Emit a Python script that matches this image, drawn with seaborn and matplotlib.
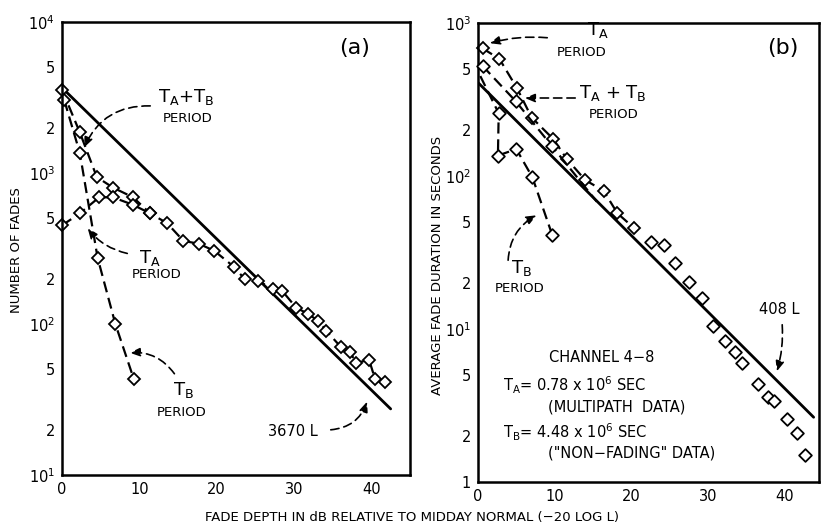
import matplotlib
matplotlib.use("Agg")
import matplotlib.pyplot as plt
import seaborn as sns
import pandas as pd
from matplotlib.ticker import FixedLocator, FixedFormatter, NullLocator

# ---------------- data ----------------
# panel (a): number of fades vs fade depth (dB)
a_sum_x = [0, 2.3, 4.5, 6.6, 9.2, 11.4, 13.6, 15.7, 17.7, 19.7, 22.2, 23.6, 25.3,
           27.3, 28.5, 30.3, 31.8, 33.1, 34.2, 36.1, 37.3, 38.0, 39.7, 40.5, 41.8]
a_sum_y = [3560, 1860, 940, 800, 690, 540, 465, 355, 340, 305, 240, 199, 194,
           170, 165, 128, 117, 105, 90, 70, 65, 55, 58, 43, 41]
a_ta_x = [0, 2.3, 4.8, 6.6, 9.2, 11.4]
a_ta_y = [450, 540, 690, 690, 615, 540]
a_tb_x = [0.3, 2.3, 4.6, 6.9, 9.3]
a_tb_y = [3030, 1360, 275, 100, 43]
a_fit_x = [0, 42.5]
a_fit_y = [3670, 27.4]          # 3670 L

# panel (b): average fade duration (s) vs fade depth (dB)
b_ta_x = [0.6, 2.8, 5.1, 7.0, 9.8, 11.6, 14.0, 16.4, 18.2, 20.3]
b_ta_y = [683, 582, 374, 241, 175, 129, 94, 80, 57, 46]
b_sum_x = [0.6, 4.9, 9.6, 15.5]
b_sum_y = [524, 309, 158, 68]
b_tb_x = [0.3, 2.7, 2.6, 5.0, 7.1, 9.7]
b_tb_y = [450, 257, 136, 150, 98, 41]
b_tail_x = [22.6, 24.3, 25.7, 27.5, 29.2, 30.7, 32.2, 33.5, 34.5, 36.6, 37.8,
            38.6, 40.3, 41.6, 42.7]
b_tail_y = [37, 35.5, 27, 20.4, 16, 10.5, 8.3, 7.1, 6.0, 4.4, 3.6, 3.37, 2.58,
            2.09, 1.51]
b_fit_x = [0, 43.8]
b_fit_y = [408, 2.65]           # 408 L

x_ticks = [0, 10, 20, 30, 40]
a_yticks = [10, 20, 50, 100, 200, 500, 1000, 2000, 5000, 10000]
a_ylabels = ["$10^1$", "2", "5", "$10^2$", "2", "5", "$10^3$", "2", "5", "$10^4$"]
b_yticks = [1, 2, 5, 10, 20, 50, 100, 200, 500, 1000]
b_ylabels = ["1", "2", "5", "$10^1$", "2", "5", "$10^2$", "2", "5", "$10^3$"]

# ---------------- style ----------------
sns.set_style("white")
plt.rcParams["font.family"] = ["DejaVu Sans"]
plt.rcParams["mathtext.default"] = "regular"

W, H = 822, 526
fig = plt.figure(figsize=(W / 100, H / 100), dpi=100)


def rect(l, t, r, b):
    return [l / W, 1 - b / H, (r - l) / W, (b - t) / H]


def P(x, y):
    return (x / W, 1 - y / H)


axA = fig.add_axes(rect(62, 22, 410, 475))
axB = fig.add_axes(rect(478, 23, 819, 482))

DASH = (5, 2.6)
LW = 1.6
mk = dict(marker="D", markersize=6.5, markerfacecolor="white",
          markeredgecolor="black", markeredgewidth=1.3)


def dashed(ax, x, y, markers=True):
    df = pd.DataFrame({"x": x, "y": y})
    kw = dict(mk) if markers else {}
    sns.lineplot(data=df, x="x", y="y", ax=ax, color="black", lw=LW,
                 sort=False, estimator=None, clip_on=False, **kw)
    ax.lines[-1].set_dashes(DASH)


def solid(ax, x, y):
    df = pd.DataFrame({"x": x, "y": y})
    sns.lineplot(data=df, x="x", y="y", ax=ax, color="black", lw=2.0,
                 sort=False, estimator=None)


def points(ax, x, y):
    df = pd.DataFrame({"x": x, "y": y})
    sns.scatterplot(data=df, x="x", y="y", ax=ax, marker="D", s=42,
                    facecolor="white", edgecolor="black", linewidth=1.3,
                    clip_on=False, zorder=5)


# panel (a)
solid(axA, a_fit_x, a_fit_y)
dashed(axA, a_sum_x, a_sum_y)
dashed(axA, a_ta_x, a_ta_y)
dashed(axA, a_tb_x, a_tb_y)

# panel (b)
solid(axB, b_fit_x, b_fit_y)
dashed(axB, b_ta_x, b_ta_y)
dashed(axB, b_sum_x, b_sum_y, markers=False)
points(axB, b_sum_x[:3], b_sum_y[:3])
dashed(axB, b_tb_x, b_tb_y, markers=False)
points(axB, b_tb_x[1:], b_tb_y[1:])
points(axB, b_tail_x, b_tail_y)

for ax, yt, yl, ylim, xlim in [(axA, a_yticks, a_ylabels, (10, 10000), (0, 45)),
                               (axB, b_yticks, b_ylabels, (1, 1000), (0, 44.5))]:
    ax.set_yscale("log")
    ax.set_ylim(*ylim)
    ax.set_xlim(*xlim)
    ax.yaxis.set_major_locator(FixedLocator(yt))
    ax.yaxis.set_major_formatter(FixedFormatter(yl))
    ax.yaxis.set_minor_locator(NullLocator())
    ax.xaxis.set_major_locator(FixedLocator(x_ticks))
    ax.set_xticklabels([str(t) for t in x_ticks])
    ax.tick_params(direction="in", length=9, width=1.5, labelsize=10.5,
                   pad=5, colors="black")
    ax.set_xlabel("")
    ax.set_ylabel("")
    for s in ax.spines.values():
        s.set_linewidth(1.8)
        s.set_color("black")
    ax.set_facecolor("white")

# ---------------- text & annotations ----------------
def txt(x, y, s, size=9.5, ha="center", **kw):
    fig.text(*P(x, y), s, fontsize=size, ha=ha, va="center", color="black", **kw)


def arrow(x0, y0, x1, y1, rad=0.0):
    fig.add_artist(matplotlib.patches.FancyArrowPatch(
        P(x0, y0), P(x1, y1), transform=fig.transFigure,
        arrowstyle="-|>,head_length=6,head_width=2.5",
        connectionstyle=f"arc3,rad={rad}", lw=1.2, ls=(0, (5, 3)),
        color="black", zorder=10))


# (a)
txt(355, 48, "(a)", size=16)
txt(186, 97, "$T_A$+$T_B$", size=13)
txt(188, 118, "PERIOD", size=9.5)
arrow(153, 106, 83, 150, rad=0.35)
txt(150, 258, "$T_A$", size=13)
txt(157, 274, "PERIOD", size=9.5)
arrow(130, 254, 86, 226, rad=-0.2)
txt(183, 390, "$T_B$", size=13)
txt(182, 412, "PERIOD", size=9.5)
arrow(176, 376, 127, 353, rad=0.3)
txt(293, 432, "3670 L", size=10.5)
arrow(328, 430, 368, 399, rad=0.35)

# (b)
txt(783, 48, "(b)", size=16)
txt(598, 30, "$T_A$", size=13)
txt(582, 53, "PERIOD", size=9.5)
arrow(550, 38, 487, 44, rad=0.1)
txt(613, 93, "$T_A$ + $T_B$", size=13)
txt(614, 114, "PERIOD", size=9.5)
arrow(578, 98, 522, 98, rad=0.0)
txt(521, 268, "$T_B$", size=13)
txt(520, 288, "PERIOD", size=9.5)
arrow(508, 263, 539, 214, rad=-0.3)
txt(779, 310, "408 L", size=10.5)
arrow(782, 322, 776, 374, rad=-0.1)

txt(602, 358, "CHANNEL 4\u22128", size=10.5)
txt(503, 385, "$T_A$= 0.78 x 10$^6$ SEC", size=10.5, ha="left")
txt(548, 407, "(MULTIPATH  DATA)", size=10.5, ha="left")
txt(503, 432, "$T_B$= 4.48 x 10$^6$ SEC", size=10.5, ha="left")
txt(548, 453, "(\"NON\u2212FADING\" DATA)", size=10.5, ha="left")

# axis labels
txt(412, 517, "FADE DEPTH IN dB RELATIVE TO MIDDAY NORMAL (\u221220 LOG L)", size=9.5)
txt(17, 250, "NUMBER OF FADES", size=9.5, rotation=90)
txt(437, 265, "AVERAGE FADE DURATION IN SECONDS", size=9.5, rotation=90)

fig.savefig("out.png", dpi=100, facecolor="white")
